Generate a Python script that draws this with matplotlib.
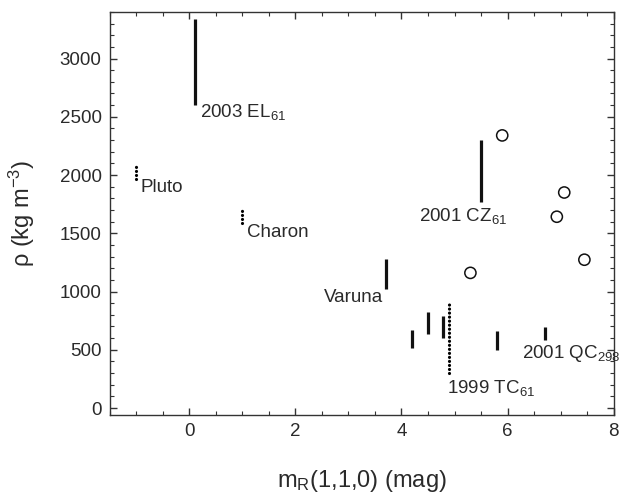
import matplotlib
matplotlib.use("Agg")
import matplotlib.pyplot as plt
from matplotlib.ticker import MultipleLocator

plt.rcParams['font.family'] = ['Liberation Sans', 'DejaVu Sans']
plt.rcParams['mathtext.fontset'] = 'custom'
plt.rcParams['mathtext.rm'] = 'Liberation Sans'
plt.rcParams['mathtext.it'] = 'Liberation Sans'

# Solid range bars: x, y_low, y_high
solid_x = [0.1, 3.7, 5.5, 4.2, 4.5, 4.78, 5.8, 6.7]
solid_lo = [2600, 1020, 1770, 515, 636, 602, 500, 585]
solid_hi = [3340, 1280, 2300, 670, 825, 790, 662, 696]

# Dotted range bars
dot_x = [-1.0, 1.0, 4.9]
dot_lo = [1970, 1590, 300]
dot_hi = [2100, 1715, 900]

# Open circles
circ_x = [5.9, 7.07, 6.93, 7.45, 5.3]
circ_y = [2340, 1850, 1642, 1273, 1160]

# Labels: text, x, y, ha
lab_text = [r'2003 EL$_{61}$', 'Pluto', 'Charon', 'Varuna',
            r'2001 CZ$_{61}$', r'1999 TC$_{61}$', r'2001 QC$_{298}$']
lab_x = [0.2, -0.93, 1.08, 3.65, 4.33, 4.86, 6.27]
lab_y = [2540, 1890, 1510, 950, 1650, 170, 470]
lab_ha = ['left', 'left', 'left', 'right', 'left', 'left', 'left']

fig = plt.figure(figsize=(6.21, 4.97), dpi=100)
ax = fig.add_axes([0.177, 0.165, 0.811, 0.811])

txtc = '#2a2a2a'
ax.vlines(solid_x, solid_lo, solid_hi, colors='#111111', linewidth=2.3)
for x, lo, hi in zip(dot_x, dot_lo, dot_hi):
    ax.plot([x, x], [lo, hi], color='#000000', linewidth=2.3,
            linestyle=(0, (0.01, 1.25)), dash_capstyle='round')
ax.scatter(circ_x, circ_y, s=65, facecolors='none', edgecolors='#111111',
           linewidths=1.1, zorder=3)
for t, x, y, ha in zip(lab_text, lab_x, lab_y, lab_ha):
    ax.text(x, y, t, ha=ha, va='center', fontsize=13.5, color=txtc)

ax.set_xlim(-1.5, 8.0)
ax.set_ylim(-60, 3400)
ax.xaxis.set_major_locator(MultipleLocator(2))
ax.xaxis.set_minor_locator(MultipleLocator(0.5))
ax.yaxis.set_major_locator(MultipleLocator(500))
ax.yaxis.set_minor_locator(MultipleLocator(100))
ax.tick_params(which='both', direction='in', top=True, right=True,
               colors='#333333', labelcolor=txtc, labelsize=13.5, pad=6)
ax.tick_params(which='major', length=5, width=1)
ax.tick_params(which='minor', length=3, width=0.8)
for s in ax.spines.values():
    s.set_color('#333333')
    s.set_linewidth(1.0)

ax.set_xlabel(r'm$_{\mathregular{R}}$(1,1,0) (mag)', fontsize=17, color=txtc, labelpad=20)
ax.set_ylabel(r'ρ (kg m$^{-3}$)', fontsize=17, color=txtc)
ax.yaxis.set_label_coords(-0.145, 0.5)

fig.savefig('out.png', dpi=100)
